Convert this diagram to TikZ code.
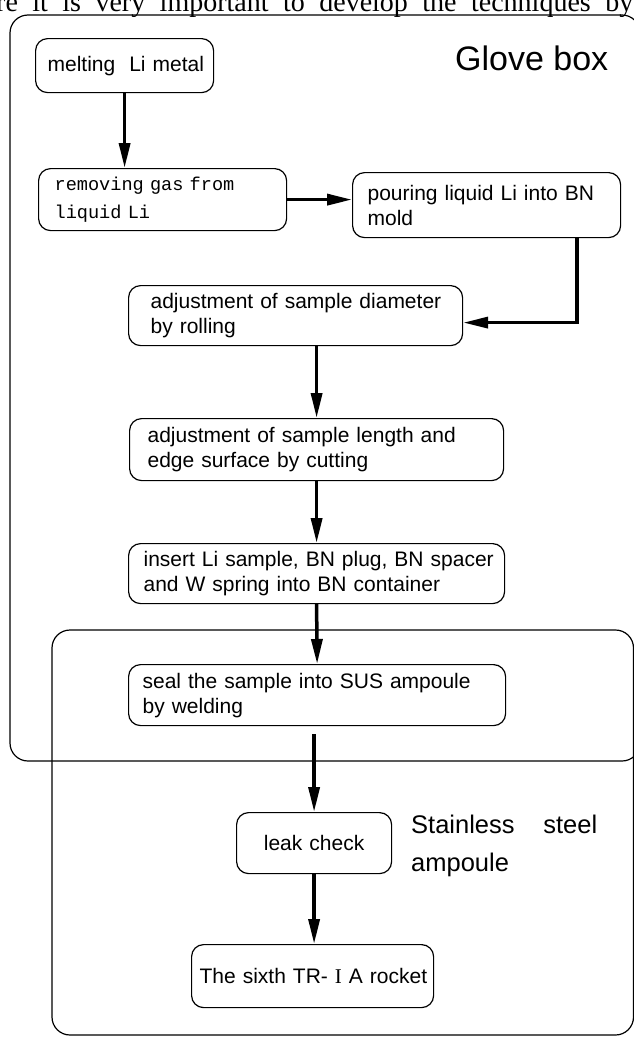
\documentclass[tikz,border=0pt]{standalone}
\usepackage{fontspec}
\setmainfont{Liberation Sans}
\newfontfamily\monofont{Liberation Mono}
\newfontfamily\seriffont{Liberation Serif}
\usetikzlibrary{arrows.meta}

\begin{document}
\begin{tikzpicture}[x=1pt,y=-1pt,
  procbox/.style={draw, line width=1.2pt, rounded corners=12pt, anchor=north west,
    align=left, inner ysep=0pt, font=\fontsize{21}{25}\selectfont},
  flow/.style={line width=3.5pt, -{Triangle[length=25pt,width=11pt]}},
  frame/.style={line width=1.2pt, rounded corners=18pt}]
  \useasboundingbox (0,0) rectangle (634,1039);

  % line of the page above the figure
  \node[anchor=base west, inner sep=0pt, font=\seriffont\fontsize{28}{30}\selectfont] (pagetext) at (-4,11)
    {\makebox[637pt][s]{re it is very important to develop the techniques by}};

  % glove box and ampoule
  \draw[frame] (10,15) rectangle (640,761);
  \draw[frame] (52,630) rectangle (633.5,1035);
  \node[anchor=base west, inner sep=0pt, font=\fontsize{34}{40}\selectfont] (glovelbl) at (455,70) {Glove box};
  \node[anchor=base west, inner sep=0pt, text width=186pt, align=left, font=\fontsize{25.5}{38}\selectfont] (ampoulelbl) at (411,833)
    {Stainless\hfill steel\\ampoule};

  % steps
  \node[procbox, minimum height=54pt, inner xsep=12pt, text width=154pt] (melt) at (35,38) {\mbox{melting\ \ Li metal}};
  \node[procbox, minimum height=62pt, inner xsep=16pt, text width=216pt, font=\monofont\fontsize{18.6}{28}\selectfont] (remove) at (38,168)
    {\mbox{removing gas from}\\\mbox{liquid Li}};
  \node[procbox, minimum height=65pt, inner xsep=15pt, text width=238pt] (pour) at (352,172)
    {\mbox{pouring liquid Li into BN}\\mold};
  \node[procbox, minimum height=60pt, inner xsep=22pt, text width=290pt] (diam) at (128,285)
    {\mbox{adjustment of sample diameter}\\by rolling};
  \node[procbox, minimum height=62pt, inner xsep=18pt, text width=338pt] (length) at (129,418)
    {\mbox{adjustment of sample length and}\\\mbox{edge surface by cutting}};
  \node[procbox, minimum height=60pt, inner xsep=15pt, text width=346pt] (insert) at (128,543)
    {\mbox{insert Li sample, BN plug, BN spacer}\\\mbox{and W spring into BN container}};
  \node[procbox, minimum height=61pt, inner xsep=14pt, text width=349pt] (seal) at (128,664)
    {\mbox{seal the sample into SUS ampoule}\\by welding};
  \node[procbox, minimum height=61pt, inner xsep=12pt, text width=131pt, align=center] (leak) at (236,812) {leak check};
  \node[procbox, minimum height=63pt, inner xsep=8pt, text width=226pt, align=center] (rocket) at (191,944)
    {\mbox{The sixth TR- {\seriffont I} A rocket}};

  % arrows
  \draw[flow] (melt.south) -- (melt.south |- remove.north);
  \draw[flow] (remove.east) -- (remove.east -| pour.west);
  \draw[flow] ([xshift=-44pt]pour.south east) |- ([yshift=-7pt]diam.east);
  \draw[flow] (length.north |- diam.south) -- (length.north);
  \draw[flow] (length.south) -- (insert.north);
  \draw[flow] (insert.south) -- (seal.north);
  \draw[flow] ([yshift=-8pt]seal.south -| leak.north) -- (leak.north);
  \draw[flow] (leak.south) -- (leak.south |- rocket.north);
\end{tikzpicture}
\end{document}
